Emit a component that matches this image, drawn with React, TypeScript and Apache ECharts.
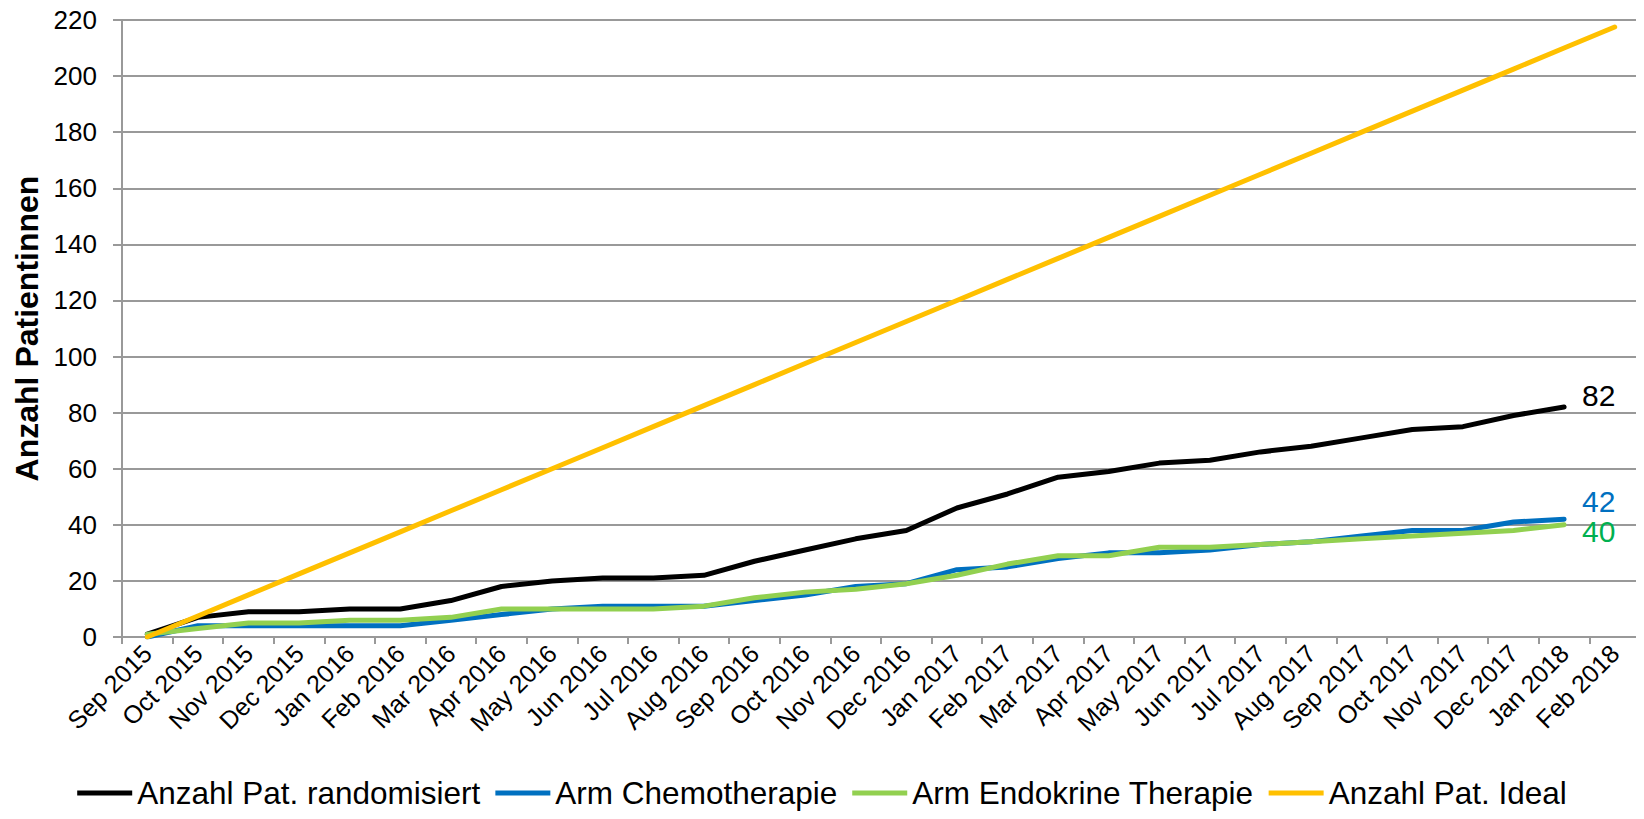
import React, { useEffect, useRef } from "react";
import * as echarts from "echarts";

const months: string[] = [
  "Sep 2015", "Oct 2015", "Nov 2015", "Dec 2015", "Jan 2016", "Feb 2016", "Mar 2016",
  "Apr 2016", "May 2016", "Jun 2016", "Jul 2016", "Aug 2016", "Sep 2016", "Oct 2016",
  "Nov 2016", "Dec 2016", "Jan 2017", "Feb 2017", "Mar 2017", "Apr 2017", "May 2017",
  "Jun 2017", "Jul 2017", "Aug 2017", "Sep 2017", "Oct 2017", "Nov 2017", "Dec 2017",
  "Jan 2018", "Feb 2018",
];

const randomisiert: number[] = [
  1, 7, 9, 9, 10, 10, 13, 18, 20, 21, 21, 22, 27, 31, 35, 38, 46, 51, 57, 59, 62, 63,
  66, 68, 71, 74, 75, 79, 82,
];

const chemotherapie: number[] = [
  0, 4, 4, 4, 4, 4, 6, 8, 10, 11, 11, 11, 13, 15, 18, 19, 24, 25, 28, 30, 30, 31, 33,
  34, 36, 38, 38, 41, 42,
];

const endokrin: number[] = [
  1, 3, 5, 5, 6, 6, 7, 10, 10, 10, 10, 11, 14, 16, 17, 19, 22, 26, 29, 29, 32, 32, 33,
  34, 35, 36, 37, 38, 40,
];

const ideal: number[] = [
  0, 7.5, 15, 22.5, 30, 37.5, 45, 52.5, 60, 67.5, 75, 82.5, 90, 97.5, 105, 112.5, 120,
  127.5, 135, 142.5, 150, 157.5, 165, 172.5, 180, 187.5, 195, 202.5, 210, 217.5,
];

const seriesNames: string[] = [
  "Anzahl Pat. randomisiert",
  "Arm Chemotherapie",
  "Arm Endokrine Therapie",
  "Anzahl Pat. Ideal",
];

const FONT = "'Liberation Sans', Arial, sans-serif";

export default function App() {
  const ref = useRef<HTMLDivElement>(null);

  useEffect(() => {
    if (!ref.current) return;
    const chart = echarts.init(ref.current, undefined, { renderer: "svg" });
    const lineBase = (color: string) => ({
      type: "line" as const,
      symbol: "none",
      showSymbol: false,
      lineStyle: { color, width: 5, cap: "round", join: "round" },
      itemStyle: { color },
    });
    chart.setOption({
      animation: false,
      backgroundColor: "#ffffff",
      textStyle: { fontFamily: FONT },
      grid: { left: 122, right: 4, top: 20, bottom: 182, containLabel: false },
      legend: {
        data: seriesNames,
        left: "center",
        top: 776,
        padding: 0,
        icon: "rect",
        itemWidth: 55,
        itemHeight: 5,
        itemGap: 15,
        textStyle: { fontSize: 31.5, color: "#000", fontFamily: FONT, lineHeight: 34 },
      },
      xAxis: {
        type: "category",
        data: months,
        boundaryGap: true,
        axisLine: { show: true, lineStyle: { color: "#999", width: 2 } },
        axisTick: { show: true, length: 7, lineStyle: { color: "#999", width: 2 } },
        axisLabel: {
          rotate: 45,
          interval: 0,
          margin: 12,
          fontSize: 25,
          color: "#000",
          fontFamily: FONT,
        },
        splitLine: { show: false },
      },
      yAxis: {
        type: "value",
        min: 0,
        max: 220,
        interval: 20,
        name: "Anzahl Patientinnen",
        nameLocation: "middle",
        nameRotate: 90,
        nameGap: 75,
        nameTextStyle: { fontSize: 32, fontWeight: "bold", color: "#000", fontFamily: FONT },
        axisLine: { show: true, lineStyle: { color: "#999", width: 2 } },
        axisTick: { show: true, length: 9, lineStyle: { color: "#999", width: 2 } },
        axisLabel: { margin: 25, fontSize: 26, color: "#000", fontFamily: FONT },
        splitLine: { show: true, lineStyle: { color: "#999", width: 2 } },
      },
      series: [
        {
          ...lineBase("#000000"),
          name: seriesNames[0],
          data: randomisiert,
          endLabel: {
            show: true,
            formatter: "{c}",
            distance: 18,
            offset: [0, -12],
            fontSize: 30,
            color: "#000000",
            fontFamily: FONT,
          },
        },
        {
          ...lineBase("#0070C0"),
          name: seriesNames[1],
          data: chemotherapie,
          endLabel: {
            show: true,
            formatter: "{c}",
            distance: 18,
            offset: [0, -18],
            fontSize: 30,
            color: "#0070C0",
            fontFamily: FONT,
          },
        },
        {
          ...lineBase("#92D050"),
          name: seriesNames[2],
          data: endokrin,
          endLabel: {
            show: true,
            formatter: "{c}",
            distance: 18,
            offset: [0, 7],
            fontSize: 30,
            color: "#00B050",
            fontFamily: FONT,
          },
        },
        {
          ...lineBase("#FFC000"),
          name: seriesNames[3],
          data: ideal,
        },
      ],
    });
    return () => chart.dispose();
  }, []);

  return <div ref={ref} style={{ width: 1644, height: 819, margin: -8 }} />;
}
